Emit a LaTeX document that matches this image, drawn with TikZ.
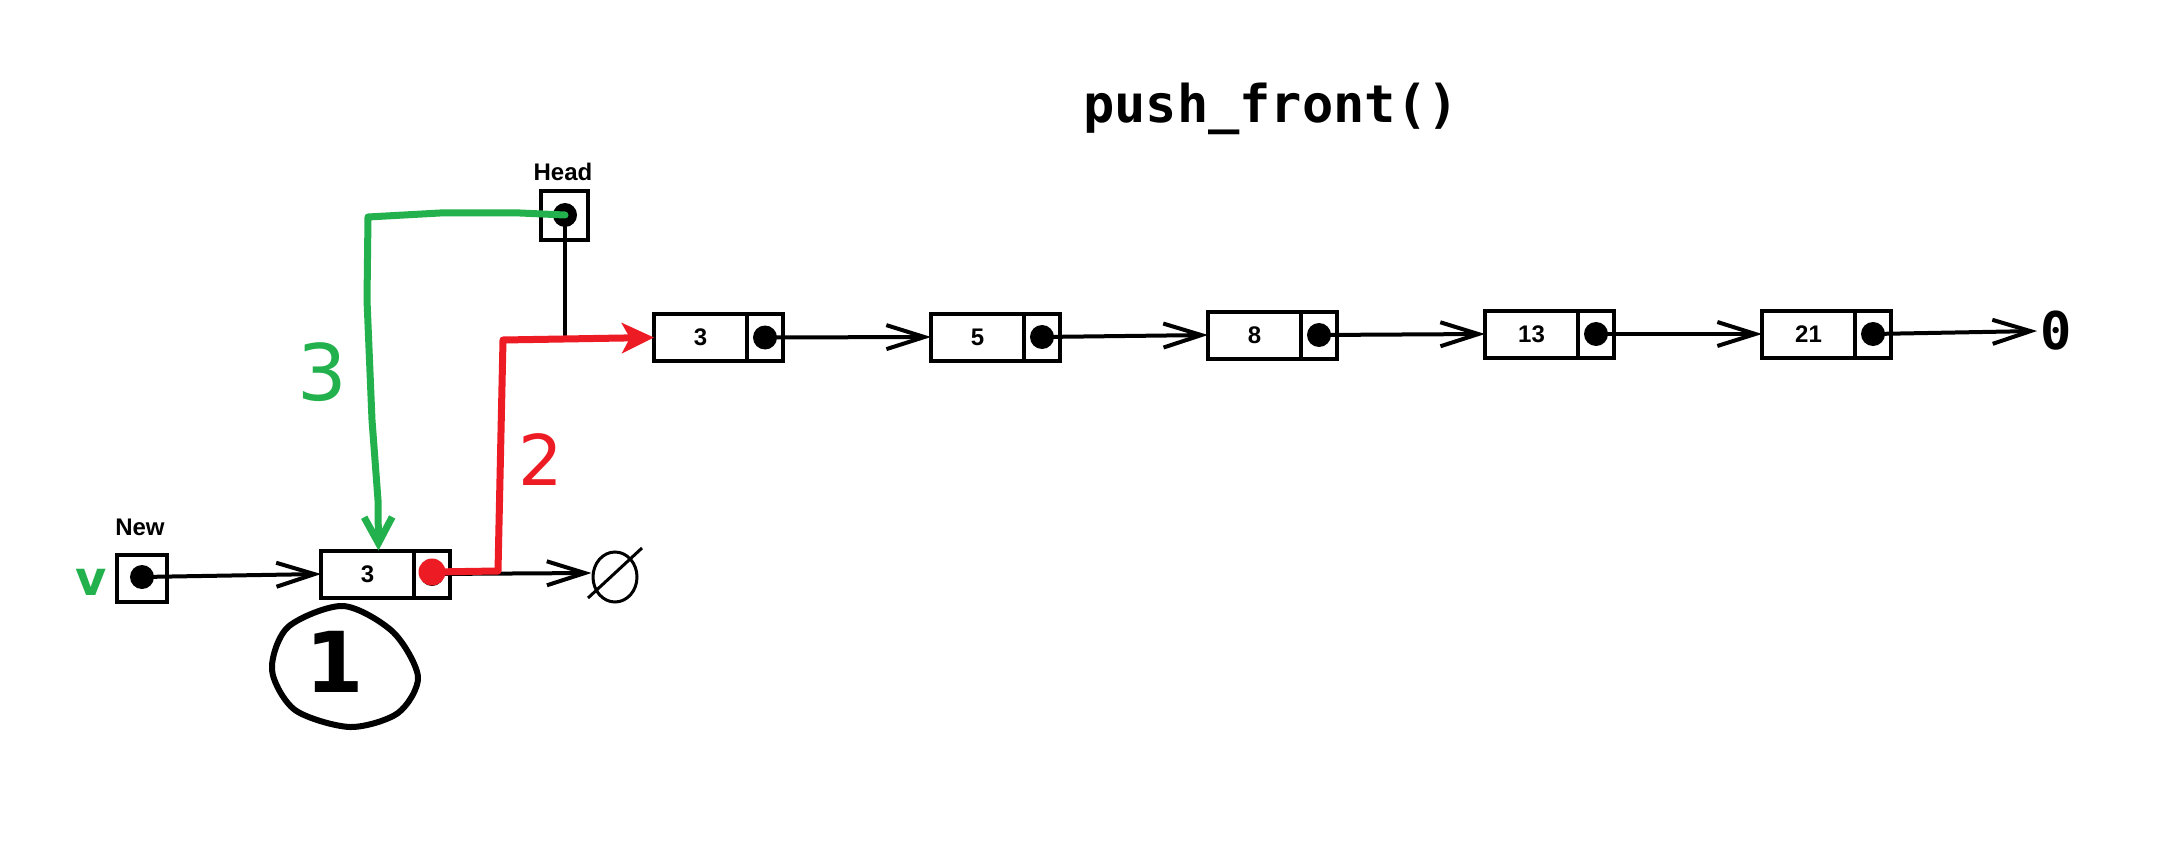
\documentclass[tikz,border=0pt]{standalone}
\usepackage{fontspec}
\setmainfont{Liberation Sans}
\newfontfamily\monofont{DejaVu Sans Mono}
\newfontfamily\handfont{DejaVu Sans}
\usetikzlibrary{arrows.meta,shapes.geometric}
\definecolor{pgreen}{HTML}{22B14C}
\definecolor{pred}{HTML}{ED1C24}
\begin{document}
\begin{tikzpicture}[x=1pt,y=-1pt,
  cellbox/.style={draw, line width=4pt, minimum height=47pt, inner sep=0pt, outer sep=0pt},
  valcell/.style={cellbox, minimum width=93pt, font=\bfseries\fontsize{24}{24}\selectfont},
  ptrcell/.style={cellbox, minimum width=36pt, anchor=west},
  blackdot/.style={circle, fill=black, minimum size=24pt, inner sep=0pt},
  ptr/.style={line width=4pt, -{Straight Barb[length=38pt,width=24pt]}},
  lbl/.style={font=\bfseries\fontsize{24}{24}\selectfont},
  greenline/.style={draw=pgreen, line width=7pt, line cap=round, line join=round},
  redline/.style={draw=pred, line width=7pt, line cap=round, line join=round},
  hand/.style={font=\handfont\fontsize{#1}{#1}\selectfont},
  handb/.style={font=\handfont\bfseries\fontsize{#1}{#1}\selectfont},
]
\fill[white] (0,0) rectangle (2176,850);
\useasboundingbox (0,0) rectangle (2176,850);

% title
\node[font=\monofont\bfseries\fontsize{52}{52}\selectfont, anchor=base] (title) at (1271,123) {push\_front()};

% list nodes
\node[valcell] (v1) at (700.5,337.5) {3};
\node[ptrcell] (p1) at (v1.east) {};
\node[blackdot] (d1) at (p1.center) {};
\node[valcell] (v2) at (977.5,337) {5};
\node[ptrcell] (p2) at (v2.east) {};
\node[blackdot] (d2) at (p2.center) {};
\node[valcell] (v3) at (1254.5,335) {8};
\node[ptrcell] (p3) at (v3.east) {};
\node[blackdot] (d3) at (p3.center) {};
\node[valcell] (v4) at (1531.5,334) {13};
\node[ptrcell] (p4) at (v4.east) {};
\node[blackdot] (d4) at (p4.center) {};
\node[valcell] (v5) at (1808.5,334) {21};
\node[ptrcell] (p5) at (v5.east) {};
\node[blackdot] (d5) at (p5.center) {};
\node[font=\monofont\bfseries\fontsize{52}{52}\selectfont, inner sep=3pt] (zero) at (2056,331) {0};

\draw[ptr] (d1.center) -- (v2.west);
\draw[ptr] (d2.center) -- (v3.west);
\draw[ptr] (d3.center) -- (v4.west);
\draw[ptr] (d4.center) -- (v5.west);
\draw[ptr] (d5.center) -- (zero.west);

% head
\node[cellbox, minimum width=47pt, minimum height=49pt] (head) at (564.5,215.5) {};
\node[blackdot] (hd) at (565,215) {};
\node[lbl] (headl) at (563,172) {Head};
\coordinate (hj) at (565,339);
\draw[line width=4pt] (hd.center) -- (hj);

% new
\node[cellbox, minimum width=50pt, minimum height=47pt] (new) at (142,578.5) {};
\node[blackdot] (nd) at (142,577) {};
\node[lbl] (newl) at (140,527) {New};
\node[text=pgreen, handb=48, inner sep=0pt] (vv) at (91,582) {v};

\node[valcell] (vn) at (367.5,574) {3};
\node[ptrcell] (pn) at (vn.east) {};
\node[blackdot] (dn) at (pn.center) {};
\draw[ptr] (nd.center) -- (vn.west);

% null
\node[draw, ellipse, line width=3pt, minimum width=44pt, minimum height=50pt, inner sep=0pt] (null) at (615,577) {};
\draw[line width=3pt] ([shift={(-27,21)}]null.center) -- ([shift={(27,-29)}]null.center);
\draw[ptr] (dn.center) -- ([yshift=4pt]null.west);

% circled 1
\node[handb=84] (one) at (335,662) {1};
\draw[line width=6pt] plot[smooth cycle] coordinates {(343,606) (393,632) (418,677) (398,713) (350,727) (295,710) (272,670) (288,627)};

% red step 2
\node[circle, fill=pred, minimum size=27pt, inner sep=0pt] (rd) at (432,572) {};
\coordinate (rc1) at (498,571);
\coordinate (rc2) at (503,340);
\draw[redline, -{Stealth[length=32pt,width=30pt,inset=8pt]}] (rd.center) -- (rc1) -- (rc2) -- (v1.west);
\node[text=pred, hand=70] (s2) at (541,460) {2};

% green step 3
\coordinate (g1) at (520,213);
\coordinate (g2) at (440,213);
\coordinate (g3) at (368,217);
\coordinate (g4) at (367,300);
\coordinate (g5) at (372,420);
\coordinate (g6) at (378,500);
\draw[greenline, -{Straight Barb[length=26pt,width=28pt]}] (hd.center) -- (g1) -- (g2) -- (g3) -- (g4) -- (g5) -- (g6) -- ([xshift=11pt]vn.north);
\node[text=pgreen, hand=78] (s3) at (322,372) {3};
\end{tikzpicture}
\end{document}
